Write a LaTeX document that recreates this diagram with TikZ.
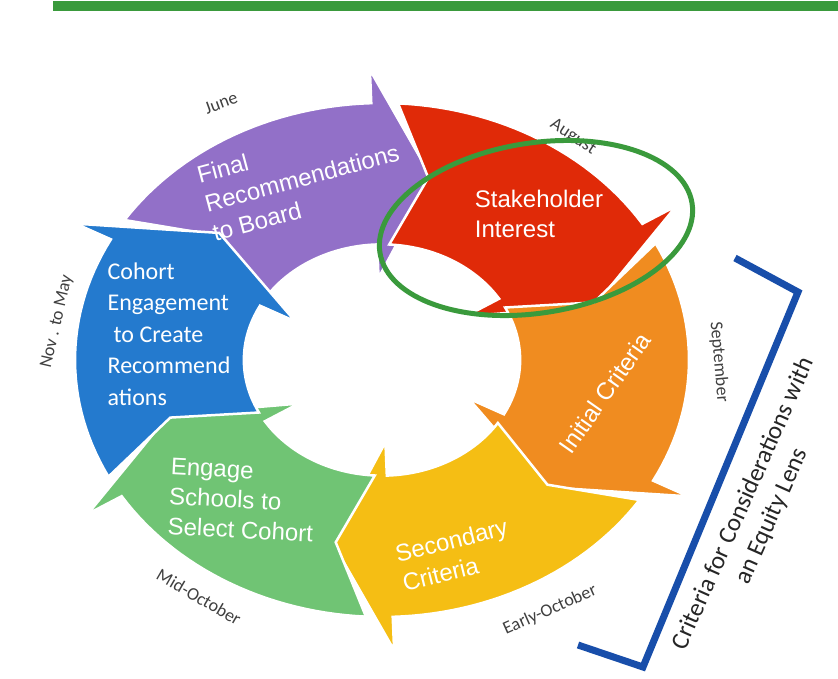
\documentclass[tikz,border=0pt]{standalone}
\usepackage{fontspec}
\setmainfont{Liberation Sans}
\newfontfamily\calfont{Carlito}
\usepackage{tikz}
\usetikzlibrary{positioning, calc}
\definecolor{cpurple}{RGB}{146,112,200}
\definecolor{cred}{RGB}{224,42,8}
\definecolor{corange}{RGB}{240,140,32}
\definecolor{cyellow}{RGB}{245,190,20}
\definecolor{cgreen}{RGB}{112,196,116}
\definecolor{cblue}{RGB}{36,122,206}
\definecolor{cmark}{RGB}{58,154,60}
\definecolor{cbrack}{RGB}{24,78,170}
\tikzset{
  ring_seg/.style = {draw=white, line width=2.5pt, line join=miter},
  seg_txt/.style  = {align=left, inner sep=0pt, text=white, font=\fontsize{24}{30}\selectfont},
  coh_txt/.style  = {align=left, inner sep=0pt, text=white, font=\calfont\fontsize{24}{31.5}\selectfont},
  mon_txt/.style  = {inner sep=0pt, text=black!75, font=\calfont\fontsize{18}{20}\selectfont},
  eq_txt/.style   = {align=center, inner sep=0pt, text=black!85, font=\calfont\fontsize{25}{31}\selectfont},
  hl_ring/.style  = {draw=cmark, line width=5pt},
  eq_brack/.style = {draw=cbrack, line width=7pt, line join=miter}
}

\begin{document}
\begin{tikzpicture}[x=1pt, y=-1pt]
  \useasboundingbox[fill=white] (0,0) rectangle (838,678);
  \fill[cmark] (53,1) rectangle (838,11);

  \begin{scope}[shift={(382,360)}, x=307pt, y=257pt]
    \foreach \col/\aS in {cpurple/147, cred/87, corange/27, cyellow/-33, cgreen/-93, cblue/-153} {
      \pgfmathsetmacro{\aH}{\aS-55}
      \pgfmathsetmacro{\aT}{\aS-70}
      \pgfmathsetmacro{\aN}{\aS-9}
      \filldraw[ring_seg, fill=\col] (\aS:1)
        -- plot[domain=\aS:\aH, samples=30, variable=\u] (\u:1)
        -- (\aH:1.13) -- (\aT:0.725) -- (\aH:0.32)
        -- plot[domain=\aH:\aS, samples=30, variable=\u] (\u:0.45)
        -- (\aN:0.725) -- cycle;
    }
  \end{scope}

  \node[seg_txt, rotate=15] (lbl_final) at (302,178) {Final\\Recommendations\\to Board};
  \node[seg_txt] (lbl_stake) at (539,214) {Stakeholder\\Interest};
  \node[seg_txt, rotate=55] (lbl_init) at (605,393) {Initial Criteria};
  \node[seg_txt, rotate=14] (lbl_second) at (455,555) {Secondary\\Criteria};
  \node[seg_txt, rotate=-3] (lbl_engage) at (242,500) {Engage\\Schools to\\Select Cohort};
  \node[coh_txt] (lbl_cohort) at (169,334) {Cohort\\Engagement\\\hspace*{.25em}to Create\\Recommend\\ations};

  \node[mon_txt, rotate=20] (mon_june) at (221,103) {June};
  \node[mon_txt, rotate=-33] (mon_aug) at (573,137) {August};
  \node[mon_txt, rotate=-85] (mon_sep) at (719,362) {September};
  \node[mon_txt, rotate=24] (mon_early) at (550,610) {Early-October};
  \node[mon_txt, rotate=-30] (mon_mid) at (199,597) {Mid-October};
  \node[mon_txt, rotate=77] (mon_nov) at (57,322) {Nov . to May};

  \draw[hl_ring, rotate around={9:(536,228)}] (536,228) ellipse [x radius=158, y radius=85];

  \draw[eq_brack] (735,258) -- (798,292) -- (643,667) -- (578,645);
  \node[eq_txt, rotate=66] (lbl_equity) at (758,510) {Criteria for Considerations with\\an Equity Lens};
\end{tikzpicture}
\end{document}
